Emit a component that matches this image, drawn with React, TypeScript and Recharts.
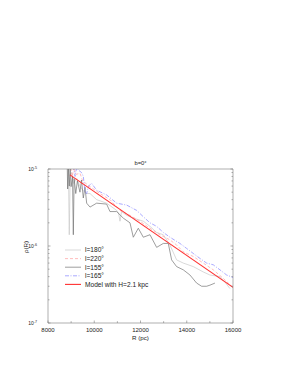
import { LineChart, Line, XAxis, YAxis, Legend, Label } from "recharts";

// galactocentric radius R (pc) and density rho(R), per longitude
const R_180 = [8880, 8920, 8960, 9023, 9100, 9240, 9380, 9527, 9672, 9816, 10104, 10536, 10968, 11050, 11113, 11180, 11401, 11689, 12121, 12409, 12698, 12986, 13274, 13562, 13851, 14283, 14715, 15003, 15436, 15652, 15868];
const RHO_180 = [1.1e-5, 1.4e-6, 8.5e-6, 9.0e-6, 6.5e-6, 7.5e-6, 6.0e-6, 5.2e-6, 4.8e-6, 4.8e-6, 4.0e-6, 3.6e-6, 2.9e-6, 2.7e-6, 2.1e-6, 2.8e-6, 2.5e-6, 2.3e-6, 2.1e-6, 1.8e-6, 1.5e-6, 1.4e-6, 1.03e-6, 6.6e-7, 6.0e-7, 5.4e-7, 4.6e-7, 4.2e-7, 4.0e-7, 3.4e-7, 2.8e-7];

const R_220 = [8950, 9050, 9120, 9200, 9383, 9500, 9816, 10248, 10680, 11113, 11545, 11977, 12409, 12842, 13274, 13562, 13851, 14283, 14715, 15147, 15580, 15940];
const RHO_220 = [1.2e-5, 8.0e-6, 1.05e-5, 8.5e-6, 8.8e-6, 7.0e-6, 5.9e-6, 4.8e-6, 4.0e-6, 2.9e-6, 2.5e-6, 2.1e-6, 1.7e-6, 1.4e-6, 1.2e-6, 1.03e-6, 8.4e-7, 7.3e-7, 6.0e-7, 4.9e-7, 3.8e-7, 3.0e-7];

const R_155 = [8830, 8850, 8880, 8920, 8960, 9000, 9060, 9095, 9130, 9200, 9270, 9383, 9450, 9527, 9600, 9672, 9816, 10104, 10536, 10680, 10968, 11257, 11545, 11689, 11905, 12121, 12409, 12698, 12986, 13202, 13346, 13562, 13851, 14139, 14427, 14643, 14859, 15003, 15219];
const RHO_155 = [1.2e-5, 5.5e-6, 1.1e-5, 6.0e-6, 1.05e-5, 5.9e-6, 8.0e-6, 1.4e-6, 7.5e-6, 4.8e-6, 7.0e-6, 5.0e-6, 7.2e-6, 4.2e-6, 5.8e-6, 3.6e-6, 3.2e-6, 3.6e-6, 3.5e-6, 2.8e-6, 2.8e-6, 2.3e-6, 2.0e-6, 1.3e-6, 1.7e-6, 1.3e-6, 1.4e-6, 9.6e-7, 1.08e-6, 1.08e-6, 6.6e-7, 5.4e-7, 4.9e-7, 4.2e-7, 3.3e-7, 3.0e-7, 3.0e-7, 3.1e-7, 3.3e-7];

const R_165 = [9095, 9170, 9240, 9311, 9450, 9527, 9600, 9672, 9750, 9888, 10104, 10536, 10968, 11401, 11833, 12121, 12409, 12698, 12986, 13274, 13706, 13995, 14283, 14571, 14859, 15147, 15436, 15724, 16000];
const RHO_165 = [1.1e-5, 8.0e-6, 1.05e-5, 9.7e-6, 9.0e-6, 8.0e-6, 5.0e-6, 4.8e-6, 6.0e-6, 6.5e-6, 5.3e-6, 4.6e-6, 3.6e-6, 3.4e-6, 2.9e-6, 2.4e-6, 2.0e-6, 1.8e-6, 1.5e-6, 1.3e-6, 1.08e-6, 9.3e-7, 8.0e-7, 6.9e-7, 6.0e-7, 5.7e-7, 4.9e-7, 4.2e-7, 3.9e-7];

const R_MODEL = [8950, 16000];
const RHO_MODEL = [8.4e-6, 2.9e-7];

const X_TICKS = [8000, 9000, 10000, 11000, 12000, 13000, 14000, 15000, 16000];
const DECADES = [1e-7, 1e-6, 1e-5];
const Y_TICKS = [
  1e-7, 2e-7, 3e-7, 4e-7, 5e-7, 6e-7, 7e-7, 8e-7, 9e-7,
  1e-6, 2e-6, 3e-6, 4e-6, 5e-6, 6e-6, 7e-6, 8e-6, 9e-6,
  1e-5,
];

const FONT = "'Liberation Sans', Arial, sans-serif";
const FRAME = "#7a7a7a";
const TEXT = "#222";

const toRows = (rs: number[], rhos: number[]) => rs.map((R, i) => ({ R, rho: rhos[i] }));

const SERIES = [
  { name: "l=180°", data: toRows(R_180, RHO_180), color: "#c8c8c8", dash: undefined, width: 0.7 },
  { name: "l=220°", data: toRows(R_220, RHO_220), color: "#ffa0a0", dash: "3 2", width: 0.7 },
  { name: "l=155°", data: toRows(R_155, RHO_155), color: "#747474", dash: undefined, width: 0.7 },
  { name: "l=165°", data: toRows(R_165, RHO_165), color: "#8585ff", dash: "4 1.5 1 1.5", width: 0.7 },
  { name: "Model with H=2.1 kpc", data: toRows(R_MODEL, RHO_MODEL), color: "#ff3030", dash: undefined, width: 1.1 },
];

const isDecade = (v: number) => DECADES.some((d) => Math.abs(v - d) / d < 1e-6);

const BottomTick = ({ x, y, payload }: any) => {
  const major = payload.value % 2000 === 0;
  return (
    <g>
      <line x1={x} x2={x} y1={y} y2={y - (major ? 2.5 : 1.8)} stroke={FRAME} strokeWidth={0.6} />
      {major && (
        <text x={x} y={y + 8.5} textAnchor="middle" fontSize={6} fontFamily={FONT} fill={TEXT}>
          {payload.value}
        </text>
      )}
    </g>
  );
};

const TopTick = ({ x, y, payload }: any) => {
  const major = payload.value % 2000 === 0;
  return <line x1={x} x2={x} y1={y} y2={y + (major ? 2.5 : 1.8)} stroke={FRAME} strokeWidth={0.6} />;
};

const LeftTick = ({ x, y, payload }: any) => {
  const major = isDecade(payload.value);
  const exp = Math.round(Math.log10(payload.value));
  return (
    <g>
      <line x1={x} x2={x + (major ? 2.5 : 1.5)} y1={y} y2={y} stroke={FRAME} strokeWidth={0.6} />
      {major && (
        <text x={x - 11} y={y + 2} textAnchor="end" fontSize={5} fontFamily={FONT} fill={TEXT}>
          10
          <tspan dy={-2.5} fontSize={3.6}>
            {exp}
          </tspan>
        </text>
      )}
    </g>
  );
};

const RightTick = ({ x, y, payload }: any) => {
  const major = isDecade(payload.value);
  return <line x1={x} x2={x - (major ? 2.5 : 1.5)} y1={y} y2={y} stroke={FRAME} strokeWidth={0.6} />;
};

const LegendBox = () => (
  <svg width={120} height={46} style={{ display: "block" }}>
    {SERIES.map((s, i) => {
      const cy = 6 + i * 8.6;
      return (
        <g key={s.name}>
          <line x1={5} x2={21} y1={cy} y2={cy} stroke={s.color} strokeWidth={s.width} strokeDasharray={s.dash} />
          <text x={25} y={cy + 2.3} fontSize={6.6} fontFamily={FONT} fill={TEXT}>
            {s.name}
          </text>
        </g>
      );
    })}
  </svg>
);

export default function App() {
  return (
    <div style={{ position: "absolute", left: 0, top: 0, width: 282, height: 365, background: "#fff" }}>
      <LineChart width={282} height={365} margin={{ top: 168, right: 48, bottom: 0, left: 0 }}>
        <XAxis
          dataKey="R"
          type="number"
          domain={[8000, 16000]}
          ticks={X_TICKS}
          interval={0}
          allowDataOverflow
          height={42}
          tickSize={0}
          tickMargin={0}
          tickLine={false}
          tick={<BottomTick />}
          axisLine={{ stroke: FRAME, strokeWidth: 0.6 }}
        >
          <Label
            content={({ viewBox }: any) => (
              <text
                x={viewBox.x + viewBox.width / 2}
                y={viewBox.y + 17}
                textAnchor="middle"
                fontSize={6.2}
                fontFamily={FONT}
                fill={TEXT}
              >
                R (pc)
              </text>
            )}
          />
        </XAxis>
        <XAxis
          xAxisId="top"
          orientation="top"
          type="number"
          domain={[8000, 16000]}
          ticks={X_TICKS}
          interval={0}
          allowDataOverflow
          height={1}
          tickSize={0}
          tickMargin={0}
          tickLine={false}
          tick={<TopTick />}
          axisLine={{ stroke: FRAME, strokeWidth: 0.6 }}
        >
          <Label
            content={({ viewBox }: any) => (
              <text
                x={viewBox.x + viewBox.width / 2}
                y={viewBox.y - 3.5}
                textAnchor="middle"
                fontSize={5.8}
                fontFamily={FONT}
                fill={TEXT}
              >
                b=0°
              </text>
            )}
          />
        </XAxis>
        <YAxis
          type="number"
          scale="log"
          domain={[1e-7, 1e-5]}
          ticks={Y_TICKS}
          interval={0}
          allowDataOverflow
          width={48}
          tickSize={0}
          tickMargin={0}
          tickLine={false}
          tick={<LeftTick />}
          axisLine={{ stroke: FRAME, strokeWidth: 0.6 }}
        >
          <Label
            content={({ viewBox }: any) => {
              const cx = viewBox.x + 25;
              const cy = viewBox.y + viewBox.height / 2 + 1;
              return (
                <text
                  x={cx}
                  y={cy}
                  transform={`rotate(-90 ${cx} ${cy})`}
                  textAnchor="middle"
                  dominantBaseline="central"
                  fontSize={6.2}
                  fontFamily={FONT}
                  fill={TEXT}
                >
                  ρ(R)
                </text>
              );
            }}
          />
        </YAxis>
        <YAxis
          yAxisId="right"
          orientation="right"
          type="number"
          scale="log"
          domain={[1e-7, 1e-5]}
          ticks={Y_TICKS}
          interval={0}
          allowDataOverflow
          width={1}
          tickSize={0}
          tickMargin={0}
          tickLine={false}
          tick={<RightTick />}
          axisLine={{ stroke: FRAME, strokeWidth: 0.6 }}
        />
        <Legend
          layout="vertical"
          align="center"
          verticalAlign="middle"
          content={<LegendBox />}
          wrapperStyle={{ left: 60, top: 244, width: 120, height: 46 }}
        />
        {SERIES.map((s) => (
          <Line
            key={s.name}
            data={s.data}
            dataKey="rho"
            name={s.name}
            type="linear"
            stroke={s.color}
            strokeWidth={s.width}
            strokeDasharray={s.dash}
            dot={false}
            activeDot={false}
            isAnimationActive={false}
          />
        ))}
      </LineChart>
    </div>
  );
}
